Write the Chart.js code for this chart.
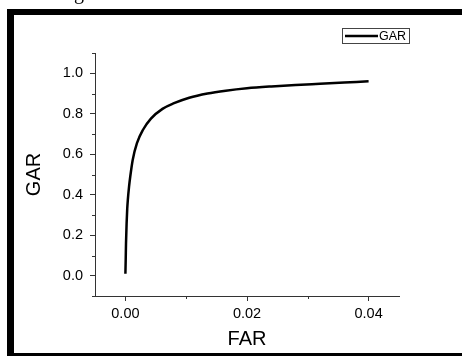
<!DOCTYPE html>
<html lang="en">
<head>
  <meta charset="UTF-8">
  <title>GAR vs FAR</title>
  <script src="https://cdn.jsdelivr.net/npm/chart.js"></script>
  <style>
    html, body { margin: 0; padding: 0; background: #fff; overflow: hidden; }
    #wrap { position: relative; width: 462px; height: 356px; }
    #frame {
      position: absolute; left: 7px; top: 9px; width: 470px; height: 347px;
      box-sizing: border-box; border-left: 7px solid #000; border-top: 6px solid #000;
      border-bottom: 3px solid #000; pointer-events: none;
    }
    #cut {
      position: absolute; left: 74px; top: -19px; font: 20px "Liberation Serif", serif; color: #000;
    }
  </style>
</head>
<body>
  <div id="wrap">
    <canvas id="rocChart" width="462" height="356"></canvas>
    <div id="frame"></div>
    <div id="cut">g</div>
  </div>

  <script>
    // curve
    const far = [0, 0.00005, 0.0001, 0.0002, 0.0003, 0.0004, 0.0006, 0.0008, 0.0012, 0.0019, 0.0029,
                 0.0042, 0.0061, 0.008, 0.0105, 0.0135, 0.0165, 0.02, 0.024, 0.028, 0.032, 0.036, 0.04];
    const gar = [0.01, 0.08, 0.16, 0.26, 0.33, 0.375, 0.44, 0.49, 0.572, 0.655, 0.721,
                 0.776, 0.824, 0.852, 0.879, 0.900, 0.914, 0.926, 0.935, 0.942, 0.948, 0.954, 0.96];

    const xTicks = [0, 0.02, 0.04];
    const xMinor = [0.01, 0.03];
    const yTicks = [0, 0.2, 0.4, 0.6, 0.8, 1.0];
    const yMinor = [-0.1, 0.1, 0.3, 0.5, 0.7, 0.9, 1.1];

    const FONT = '"Liberation Sans", Arial, sans-serif';
    const AXIS = '#333';

    // short minor ticks + legend box
    const extras = {
      id: 'extras',
      afterDraw(chart) {
        const ctx = chart.ctx;
        const a = chart.chartArea;
        const xs = chart.scales.x, ys = chart.scales.y;
        ctx.save();
        ctx.strokeStyle = AXIS;
        ctx.lineWidth = 1;
        ctx.beginPath();
        xMinor.forEach(v => {
          const p = Math.round(xs.getPixelForValue(v)) + 0.5;
          ctx.moveTo(p, a.bottom); ctx.lineTo(p, a.bottom + 3);
        });
        yMinor.forEach(v => {
          const p = Math.round(ys.getPixelForValue(v)) + 0.5;
          ctx.moveTo(a.left - 3, p); ctx.lineTo(a.left, p);
        });
        ctx.stroke();

        // legend
        ctx.strokeStyle = '#444';
        ctx.strokeRect(342.5, 28.5, 67, 15);
        ctx.strokeStyle = '#000';
        ctx.lineWidth = 2.5;
        ctx.beginPath();
        ctx.moveTo(345, 36); ctx.lineTo(378, 36);
        ctx.stroke();
        ctx.fillStyle = '#000';
        ctx.font = '12.5px ' + FONT;
        ctx.textBaseline = 'middle';
        ctx.fillText(chart.data.datasets[0].label, 379, 36.5);
        ctx.restore();
      }
    };

    new Chart(document.getElementById('rocChart'), {
      type: 'scatter',
      data: {
        datasets: [{
          label: 'GAR',
          data: far.map((v, i) => ({ x: v, y: gar[i] })),
          showLine: true,
          borderColor: '#000',
          borderWidth: 2.5,
          pointRadius: 0,
          cubicInterpolationMode: 'monotone'
        }]
      },
      options: {
        responsive: false,
        animation: false,
        layout: { padding: { left: 0, right: 63, top: 53, bottom: 0 } },
        plugins: { legend: { display: false }, tooltip: { enabled: false } },
        scales: {
          x: {
            type: 'linear', min: -0.005, max: 0.045,
            afterBuildTicks: s => { s.ticks = xTicks.map(v => ({ value: v })); },
            afterFit: s => { s.height = 60; },
            ticks: { color: '#000', font: { family: FONT, size: 14.5 }, padding: 4,
                     callback: v => v.toFixed(2) },
            grid: { drawOnChartArea: false, tickLength: 5, color: AXIS },
            border: { color: AXIS, width: 1 },
            title: { display: true, text: 'FAR', color: '#000', font: { family: FONT, size: 20 },
                     padding: { top: 0, bottom: 5 } }
          },
          y: {
            type: 'linear', min: -0.1, max: 1.1,
            afterBuildTicks: s => { s.ticks = yTicks.map(v => ({ value: v })); },
            afterFit: s => { s.width = 95; },
            ticks: { color: '#000', font: { family: FONT, size: 14.5 }, padding: 7,
                     callback: v => v.toFixed(1) },
            grid: { drawOnChartArea: false, tickLength: 5, color: AXIS },
            border: { color: AXIS, width: 1 },
            title: { display: true, text: 'GAR', color: '#000', font: { family: FONT, size: 20 },
                     padding: { top: 22, bottom: 0 } }
          }
        }
      },
      plugins: [extras]
    });
  </script>
</body>
</html>
